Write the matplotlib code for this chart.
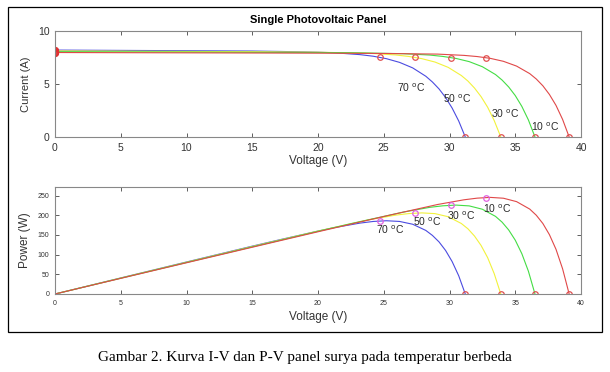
import numpy as np
import matplotlib.pyplot as plt
from matplotlib.patches import Rectangle

plt.rcParams['font.family'] = ['Liberation Sans', 'DejaVu Sans']

temps = ['70', '50', '30', '10']
colors = ['#4b4be0', '#f2f23c', '#44dd44', '#e04848']

# I-V curves (V in volts, I in amps)
v70 = [0, 5, 10, 15, 17.2, 20, 21.2, 23.2, 24.2, 25.2, 26.2, 27.2, 28.2, 28.7, 29.2, 29.7, 30.2, 30.7, 31.2]
i70 = [8.20, 8.17, 8.14, 8.11, 8.07, 8.00, 7.95, 7.77, 7.62, 7.39, 7.04, 6.52, 5.73, 5.19, 4.54, 3.73, 2.73, 1.51, 0]

v50 = [0, 5, 10, 15, 19.9, 23.9, 25.9, 26.9, 27.9, 28.9, 29.9, 30.9, 31.4, 31.9, 32.4, 32.9, 33.4, 33.9]
i50 = [8.12, 8.10, 8.07, 8.05, 8.00, 7.90, 7.74, 7.60, 7.39, 7.07, 6.57, 5.80, 5.28, 4.62, 3.81, 2.81, 1.55, 0]

v30 = [0, 5, 10, 15, 20, 22.5, 26.5, 28.5, 29.5, 30.5, 31.5, 32.5, 33.5, 34.0, 34.5, 35.0, 35.5, 36.0, 36.5]
i30 = [8.05, 8.03, 8.01, 7.99, 7.97, 7.95, 7.86, 7.73, 7.60, 7.41, 7.11, 6.63, 5.89, 5.37, 4.72, 3.91, 2.89, 1.61, 0]

v10 = [0, 5, 10, 15, 20, 25.1, 29.1, 31.1, 32.1, 33.1, 34.1, 35.1, 36.1, 36.6, 37.1, 37.6, 38.1, 38.6, 39.1]
i10 = [7.97, 7.955, 7.94, 7.925, 7.91, 7.88, 7.82, 7.70, 7.59, 7.42, 7.14, 6.69, 5.98, 5.47, 4.83, 4.01, 2.98, 1.66, 0]

# maximum power points and open circuit voltages
v_mpp = [24.7, 27.4, 30.1, 32.8]
i_mpp = [7.51, 7.50, 7.49, 7.47]
v_oc = [31.2, 33.9, 36.5, 39.1]
i_sc = [8.20, 8.12, 8.05, 7.97]

# label positions (V, I) and (V, P)
lab_iv = [(27.1, 4.67), (30.6, 3.58), (34.2, 2.17), (37.3, 0.99)]
lab_pv = [(25.5, 163), (28.3, 184), (30.9, 199), (33.6, 217)]

V = [v70, v50, v30, v10]
I = [i70, i50, i30, i10]

fig = plt.figure(figsize=(6.1, 3.72), dpi=100)
fig.patches.append(Rectangle((8/610, 1-332/372), 594/610, 325/372, transform=fig.transFigure,
                             fill=False, edgecolor='black', linewidth=0.9))

ax1 = fig.add_axes([55/610, 1-137/372, 526/610, 106/372])
ax2 = fig.add_axes([55/610, 1-294/372, 526/610, 107/372])

for k in range(4):
    v = np.array(V[k])
    cur = np.array(I[k])
    ax1.plot(v, cur, color=colors[k], lw=0.8)
    ax2.plot(v, v*cur, color=colors[k], lw=0.8)

mk = dict(marker='o', ls='none', ms=4, mfc='none', mew=0.9)
ax1.plot(v_mpp, i_mpp, color='#e05050', **mk)
ax1.plot(v_oc, np.zeros(4), color='#e05050', **mk)
ax1.plot(np.zeros(4), i_sc, color='#e03030', marker='o', ls='none', ms=4, mfc='#e04040', mew=1.2)
ax2.plot(v_mpp, np.array(v_mpp)*np.array(i_mpp), color='#e060e0', **mk)
ax2.plot(v_oc, np.zeros(4), color='#e05050', **mk)

for k in range(4):
    ax1.text(lab_iv[k][0], lab_iv[k][1], temps[k] + ' $^{\\mathrm{o}}$C', fontsize=7.5,
             ha='center', va='center', color='#2a2a2a')
    ax2.text(lab_pv[k][0], lab_pv[k][1], temps[k] + ' $^{\\mathrm{o}}$C', fontsize=7.5,
             ha='center', va='center', color='#2a2a2a')

ax1.set_xlim(0, 40)
ax1.set_ylim(0, 10)
ax1.set_xticks(np.arange(0, 41, 5))
ax1.set_yticks([0, 5, 10])
ax1.set_ylabel('Current (A)', fontsize=8, color='#333333', labelpad=5)
ax1.set_xlabel('Voltage (V)', fontsize=8.5, color='#333333', labelpad=2)
ax1.set_title('Single Photovoltaic Panel', fontsize=8, fontweight='bold', pad=6)
ax1.tick_params(labelsize=7.5, pad=4)

ax2.set_xlim(0, 40)
ax2.set_ylim(0, 272)
ax2.set_xticks(np.arange(0, 41, 5))
ax2.set_yticks(np.arange(0, 251, 50))
ax2.set_ylabel('Power (W)', fontsize=8.5, color='#333333', labelpad=5)
ax2.set_xlabel('Voltage (V)', fontsize=8.5, color='#333333', labelpad=3)
ax2.tick_params(labelsize=5, pad=4)

for ax in (ax1, ax2):
    ax.tick_params(direction='in', length=3, width=0.6, color='#444444',
                   top=True, right=True, labelcolor='#333333')
    for s in ax.spines.values():
        s.set_color('#888888')
        s.set_linewidth(0.8)

fig.text(0.5, 1-357/372, 'Gambar 2. Kurva I-V dan P-V panel surya pada temperatur berbeda',
         fontsize=11, family='Liberation Serif', ha='center', va='center')

fig.savefig('out.png', dpi=100)
